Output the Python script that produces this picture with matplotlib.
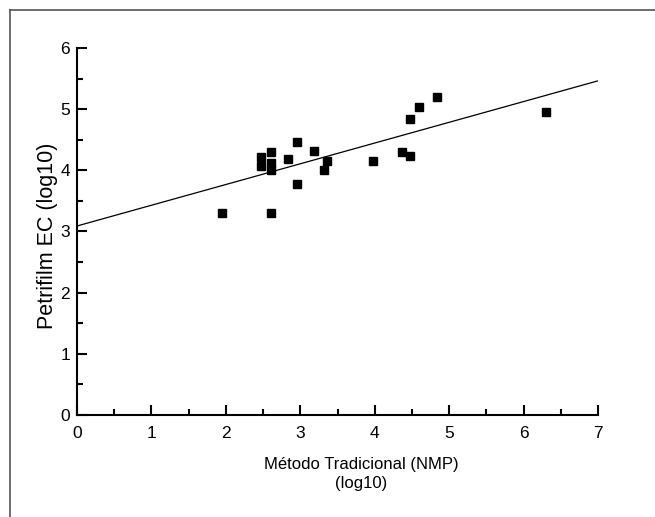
import matplotlib
matplotlib.use("Agg")
import matplotlib.pyplot as plt
from matplotlib.lines import Line2D
import numpy as np

plt.rcParams['font.family'] = ['Liberation Sans', 'DejaVu Sans']

# NMP (log10) vs Petrifilm EC (log10)
nmp = [1.95, 2.60, 2.95, 2.95, 2.60, 2.47, 2.47, 2.60, 2.60, 2.84,
       3.18, 3.36, 3.32, 3.97, 4.36, 4.47, 4.47, 4.59, 4.84, 6.30]
petrifilm = [3.30, 3.30, 3.78, 4.47, 4.30, 4.21, 4.07, 4.12, 4.00, 4.18,
             4.32, 4.15, 4.00, 4.15, 4.30, 4.23, 4.84, 5.04, 5.20, 4.95]

# fitted line
intercept = 3.09
slope = 0.339
line_x = [0, 7]

fig = plt.figure(figsize=(6.55, 5.17), dpi=100)
ax = fig.add_axes([0.1176, 0.1973, 0.7954, 0.7099])

ax.plot(nmp, petrifilm, 's', color='black', markersize=5.5, zorder=3)
ax.plot(line_x, [intercept + slope * v for v in line_x], color='black', linewidth=0.9)

ax.set_xlim(0, 7)
ax.set_ylim(0, 6)
ax.set_xticks(range(0, 8))
ax.set_yticks(range(0, 7))
ax.set_xticks(np.arange(0.5, 7, 1), minor=True)
ax.set_yticks(np.arange(0.5, 6, 1), minor=True)

for side in ['top', 'right']:
    ax.spines[side].set_visible(False)
for side in ['left', 'bottom']:
    ax.spines[side].set_linewidth(1.5)

ax.tick_params(which='major', direction='in', length=7, width=1.5, labelsize=12.5)
ax.tick_params(which='minor', direction='in', length=4.5, width=1.5)
ax.tick_params(axis='x', which='major', pad=8)
ax.tick_params(axis='y', which='major', pad=5)

fig.text(48 / 655, 1 - 236 / 517, 'Petrifilm EC (log10)', rotation=90,
         ha='center', va='center', fontsize=15.5)
fig.text(0.551, 1 - 474 / 517, 'Método Tradicional (NMP)\n(log10)', ha='center', va='center',
         fontsize=12, linespacing=1.3)

# open frame around the figure
fig.add_artist(Line2D([10 / 655, 10 / 655], [0, 1 - 10 / 517], color='#555555', linewidth=1.2))
fig.add_artist(Line2D([10 / 655, 1], [1 - 10 / 517, 1 - 10 / 517], color='#555555', linewidth=1.2))

fig.savefig('out.png', dpi=100)
